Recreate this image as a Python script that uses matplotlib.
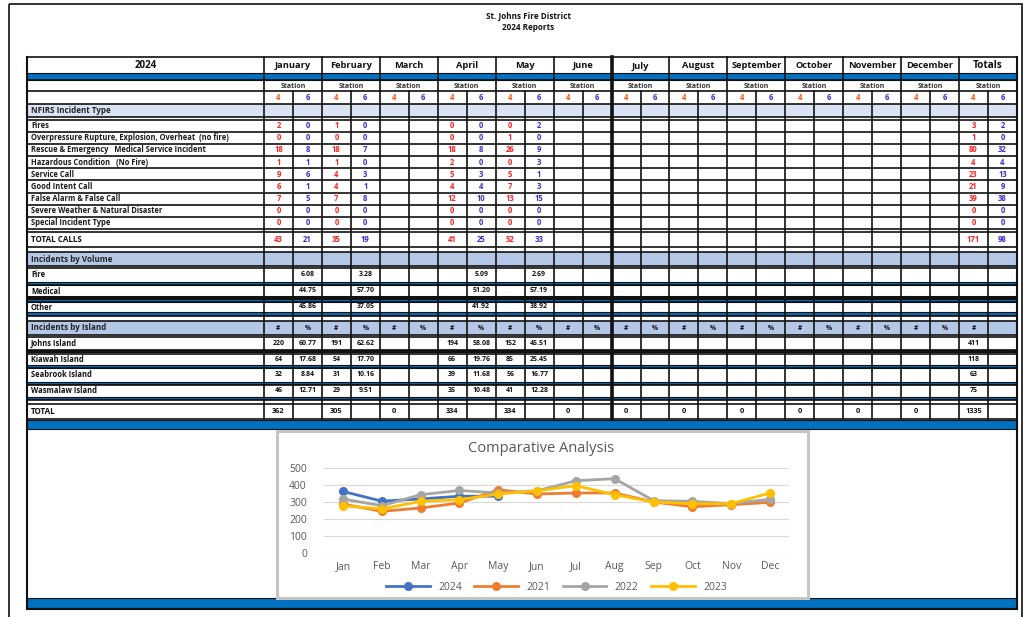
import matplotlib
matplotlib.use("Agg")
import matplotlib.pyplot as plt
from matplotlib.patches import Rectangle
import numpy as np

# ---------------- data ----------------
months = ['January', 'February', 'March', 'April', 'May', 'June', 'July',
          'August', 'September', 'October', 'November', 'December']
incident_types = ['Fires',
                  'Overpressure Rupture, Explosion, Overheat  (no fire)',
                  'Rescue & Emergency   Medical Service Incident',
                  'Hazardous Condition   (No Fire)',
                  'Service Call', 'Good Intent Call', 'False Alarm & False Call',
                  'Severe Weather & Natural Disaster', 'Special Incident Type']
# station 4 / station 6 counts per reported month (index into months)
reported_months = [0, 1, 3, 4]
jan_st4 = [2, 0, 18, 1, 9, 6, 7, 0, 0]
jan_st6 = [0, 0, 8, 1, 6, 1, 5, 0, 0]
feb_st4 = [1, 0, 18, 1, 4, 4, 7, 0, 0]
feb_st6 = [0, 0, 7, 0, 3, 1, 8, 0, 0]
apr_st4 = [0, 0, 18, 2, 5, 4, 12, 0, 0]
apr_st6 = [0, 0, 8, 0, 3, 4, 10, 0, 0]
may_st4 = [0, 1, 26, 0, 5, 7, 13, 0, 0]
may_st6 = [2, 0, 9, 3, 1, 3, 15, 0, 0]
tot_st4 = [3, 1, 80, 4, 23, 21, 39, 0, 0]
tot_st6 = [2, 0, 32, 4, 13, 9, 38, 0, 0]
total_calls_st4 = [43, 35, 41, 52]
total_calls_st6 = [21, 19, 25, 33]
total_calls_tot = [171, 98]

volume_labels = ['Fire', 'Medical', 'Other']
vol_jan = [6.08, 44.75, 45.86]
vol_feb = [3.28, 57.70, 37.05]
vol_apr = [5.09, 51.20, 41.92]
vol_may = [2.69, 57.19, 38.92]

island_labels = ['Johns Island', 'Kiawah Island', 'Seabrook Island', 'Wasmalaw Island']
isl_jan_n = [220, 64, 32, 46]
isl_jan_pct = [60.77, 17.68, 8.84, 12.71]
isl_feb_n = [191, 54, 31, 29]
isl_feb_pct = [62.62, 17.70, 10.16, 9.51]
isl_apr_n = [194, 66, 39, 35]
isl_apr_pct = [58.08, 19.76, 11.68, 10.48]
isl_may_n = [152, 85, 56, 41]
isl_may_pct = [45.51, 25.45, 16.77, 12.28]
isl_total_n = [411, 118, 63, 75]
grand_totals = [362, 305, 0, 334, 334, 0, 0, 0, 0, 0, 0, 0, 1335]

chart_months = ['Jan', 'Feb', 'Mar', 'Apr', 'May', 'Jun', 'Jul', 'Aug', 'Sep', 'Oct', 'Nov', 'Dec']
s2024 = [362, 305, 318, 334, 334]
s2021 = [288, 245, 265, 294, 372, 347, 353, 353, 300, 272, 284, 298]
s2022 = [318, 278, 343, 368, 353, 366, 425, 437, 308, 304, 290, 316]
s2023 = [278, 259, 304, 314, 347, 366, 396, 343, 300, 290, 290, 353]

# ---------------- figure ----------------
W, H = 1023, 617
fig = plt.figure(figsize=(W / 100, H / 100), dpi=100)
ax = fig.add_axes([0, 0, 1, 1])
ax.set_xlim(0, W)
ax.set_ylim(H, 0)
ax.axis('off')

FONT = ['Open Sans', 'DejaVu Sans']
BLUE = '#0070c0'
LC = '#111111'
RED = '#ff2020'
VIO = '#3a2fd0'
LW = 1.2

X0, XL, XR = 27, 264, 1017
GW = (XR - XL) / 13.0


def gx(g, sub=None):
    left = XL + g * GW
    if sub is None:
        return left + GW / 2
    return left + GW / 4 + sub * GW / 2


def txt(x, y, s, size=5.6, color=LC, ha='center', weight='bold', family=FONT):
    ax.text(x, y, s, fontsize=size, color=color, ha=ha, va='center',
            fontweight=weight, family=family)


def hline(y, lw=LW, x1=X0, x2=XR):
    ax.plot([x1, x2], [y, y], color=LC, lw=lw, solid_capstyle='butt')


def band(y1, y2, color=BLUE):
    ax.add_patch(Rectangle((X0, y1), XR - X0, y2 - y1, facecolor=color,
                           edgecolor=LC, lw=0.8))


def fill(y1, y2, color):
    ax.add_patch(Rectangle((X0, y1), XR - X0, y2 - y1, facecolor=color,
                           edgecolor='none'))


# page border
ax.add_patch(Rectangle((9, 4), 1013, 640, facecolor='none', edgecolor='#222222', lw=1.3))

# titles
txt(528, 16, 'St. Johns Fire District', size=5.9)
txt(528, 27, '2024 Reports', size=5.9)

# fills
fill(104, 117, '#dae3f3')
fill(252, 266, '#b4c7e7')
fill(321, 335, '#b4c7e7')

# horizontal lines
inc_top, inc_bot = 119.5, 229
rh = (inc_bot - inc_top) / 9
for y in [57, 80, 91, 104, 117, 119.5, 229, 232, 247, 252, 266, 268, 285, 302,
          316, 320.5, 335, 337, 350, 353.5, 368, 384.5, 400, 404, 419]:
    hline(y)
for i in range(1, 9):
    hline(inc_top + i * rh)
hline(297, lw=2.2)
hline(350.5, lw=2.2)
band(73, 80)
band(281.5, 284.5)
band(299, 302)
band(312, 315)
band(365, 367.5)
band(381.5, 384)
band(396.5, 399)
band(420, 429)
band(598, 607.5)
hline(608.5, lw=1.5)

# vertical lines
for x in [X0, XR]:
    ax.plot([x, x], [57, 608.5], color=LC, lw=1.5)
for g in range(14):
    x = XL + g * GW
    lw = 2.6 if g == 6 else LW
    ax.plot([x, x], [57, 419], color=LC, lw=lw)
for g in range(13):
    x = XL + g * GW + GW / 2
    ax.plot([x, x], [91, 419], color=LC, lw=LW)

# header rows
txt((X0 + XL) / 2, 66, '2024', size=7.0)
for g, m in enumerate(months + ['Totals']):
    txt(gx(g), 66, m, size=6.7 if g != 12 else 7.2)
    txt(gx(g), 86, 'Station', size=5.0, color='#333333')
    txt(gx(g, 0), 97.5, '4', size=5.5, color='#ff5010')
    txt(gx(g, 1), 97.5, '6', size=5.5, color=VIO)

txt(31, 110.5, 'NFIRS Incident Type', size=5.8, ha='left', color='#222222')

# incident rows
st4_cols = [jan_st4, feb_st4, apr_st4, may_st4]
st6_cols = [jan_st6, feb_st6, apr_st6, may_st6]
for i, lab in enumerate(incident_types):
    y = inc_top + (i + 0.5) * rh
    txt(31, y, lab, size=5.45, ha='left', color='#1a1a1a')
    for g, c4, c6 in zip(reported_months, st4_cols, st6_cols):
        txt(gx(g, 0), y, str(c4[i]), size=5.5, color=RED)
        txt(gx(g, 1), y, str(c6[i]), size=5.5, color=VIO)
    txt(gx(12, 0), y, str(tot_st4[i]), size=5.5, color=RED)
    txt(gx(12, 1), y, str(tot_st6[i]), size=5.5, color=VIO)

ytc = 239.5
txt(31, ytc, 'TOTAL CALLS', size=5.8, ha='left')
for g, a, b in zip(reported_months, total_calls_st4, total_calls_st6):
    txt(gx(g, 0), ytc, str(a), size=5.6, color=RED)
    txt(gx(g, 1), ytc, str(b), size=5.6, color=VIO)
txt(gx(12, 0), ytc, str(total_calls_tot[0]), size=5.6, color=RED)
txt(gx(12, 1), ytc, str(total_calls_tot[1]), size=5.6, color=VIO)

# volume section
txt(31, 259, 'Incidents by Volume', size=5.8, ha='left', color='#222222')
vol_y = [274.5, 291, 307]
vol_cols = [vol_jan, vol_feb, vol_apr, vol_may]
for i, lab in enumerate(volume_labels):
    txt(31, vol_y[i], lab, size=5.45, ha='left')
    for g, col in zip(reported_months, vol_cols):
        txt(gx(g, 1), vol_y[i], f'{col[i]:.2f}', size=5.0)

# island section
txt(31, 328, 'Incidents by Island', size=5.8, ha='left', color='#222222')
for g in range(12):
    txt(gx(g, 0), 328, '#', size=4.8)
    txt(gx(g, 1), 328, '%', size=4.8)
txt(gx(12, 0), 328, '#', size=4.8)
isl_y = [343.5, 359.5, 374.5, 390.5]
n_cols = [isl_jan_n, isl_feb_n, isl_apr_n, isl_may_n]
p_cols = [isl_jan_pct, isl_feb_pct, isl_apr_pct, isl_may_pct]
for i, lab in enumerate(island_labels):
    txt(31, isl_y[i], lab, size=5.45, ha='left')
    for g, nc, pc in zip(reported_months, n_cols, p_cols):
        txt(gx(g, 0), isl_y[i], str(nc[i]), size=5.0)
        txt(gx(g, 1), isl_y[i], f'{pc[i]:.2f}', size=5.0)
    txt(gx(12, 0), isl_y[i], str(isl_total_n[i]), size=5.0)

txt(31, 411.5, 'TOTAL', size=5.8, ha='left')
for g, v in enumerate(grand_totals):
    txt(gx(g, 0), 411.5, str(v), size=5.3)

# chart frame
ax.add_patch(Rectangle((276.5, 430.5), 531, 167.5, facecolor='white',
                       edgecolor='#c6c6c0', lw=2.2))

GRAY = '#595959'
ax.text(541, 449, 'Comparative Analysis', fontsize=10.5, color=GRAY, ha='center',
        va='center', family=['Open Sans', 'DejaVu Sans'])

left_px = 343 - 19.4
right_px = 770 + 19.4
top_px, bot_px = 468, 553
cax = fig.add_axes([left_px / W, 1 - bot_px / H, (right_px - left_px) / W,
                    (bot_px - top_px) / H])
cax.set_facecolor('none')
x = np.arange(12)
series = [('2024', s2024, '#4472c4'), ('2021', s2021, '#ed7d31'),
          ('2022', s2022, '#a5a5a5'), ('2023', s2023, '#ffc000')]
for name, vals, col in series:
    cax.plot(x[:len(vals)], vals, color=col, lw=2.0, marker='o', ms=5.5,
             label=name, zorder=3)
cax.set_xlim(-0.5, 11.5)
cax.set_ylim(0, 500)
cax.set_yticks(range(0, 501, 100))
cax.set_xticks(x)
cax.set_xticklabels(chart_months)
cax.grid(axis='y', color='#d9d9d9', lw=0.8)
cax.set_axisbelow(True)
for s in cax.spines.values():
    s.set_visible(False)
cax.tick_params(length=0, labelsize=7.5, labelcolor=GRAY)
for lab in cax.get_xticklabels() + cax.get_yticklabels():
    lab.set_family(['Open Sans', 'DejaVu Sans'])
cax.tick_params(axis='x', pad=6)
cax.tick_params(axis='y', pad=12)
leg = cax.legend(loc='center', bbox_to_anchor=(0.5, -0.4), ncol=4, frameon=False,
                 handlelength=4.2, columnspacing=1.2,
                 prop={'family': ['Open Sans', 'DejaVu Sans'], 'size': 7.5})
for t in leg.get_texts():
    t.set_color(GRAY)

fig.savefig('out.png', dpi=100)
